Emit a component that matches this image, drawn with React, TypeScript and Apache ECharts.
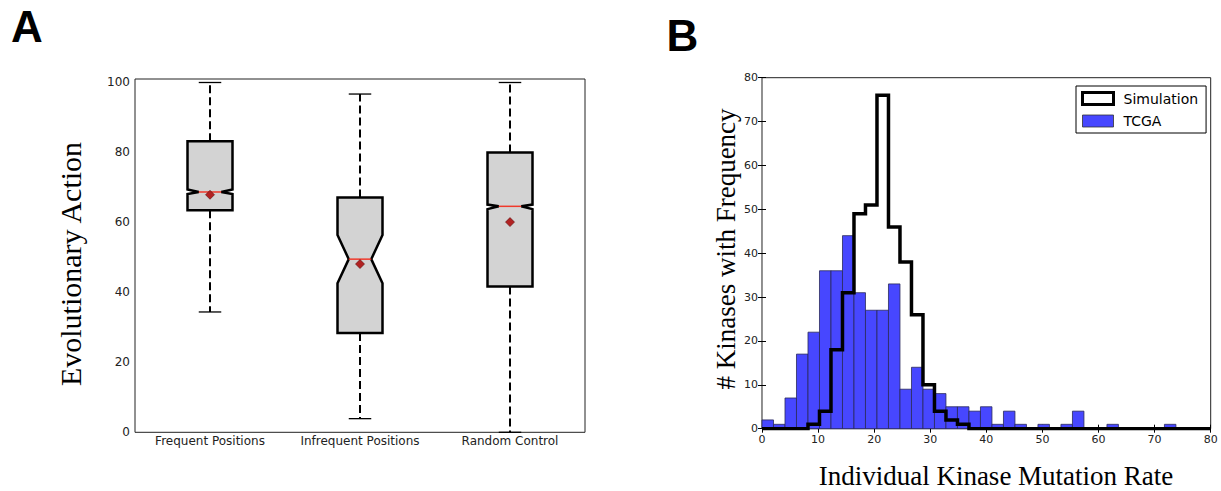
import React, { useEffect, useRef } from "react";
import * as echarts from "echarts";

// ---------- Panel A: notched box plot ----------
const BOX_CATEGORIES = ["Frequent Positions", "Infrequent Positions", "Random Control"];
const WHISKER_LOW = [34.4, 3.9, 0];
const Q1 = [63.5, 28.4, 41.7];
const NOTCH_LOW = [68.1, 42.6, 63.8];
const MEDIAN = [68.7, 49.5, 64.6];
const NOTCH_HIGH = [69.4, 56.4, 65.1];
const Q3 = [83.2, 67.1, 80.0];
const WHISKER_HIGH = [100, 96.7, 100];
const MEAN = [67.9, 48.1, 60.1];

// ---------- Panel B: histograms ----------
const BIN_WIDTH = 2.05;
const TCGA_COUNTS = [2, 1, 7, 17, 22, 36, 36, 44, 31, 27, 27, 33, 9, 14, 9, 8, 5, 5, 4, 5, 1, 4, 1, 0, 1, 0, 1, 4, 0, 0, 1, 0, 0, 0, 0, 1];
const SIM_COUNTS = [0, 0, 0, 0, 1, 4, 18, 31, 49, 51, 76, 46, 38, 26, 10, 4, 2, 1];
const B_X_MAX = 80;
const B_Y_MAX = 80;

const TICK_FONT = "DejaVu Sans";
const SERIF = "Liberation Serif";

export default function App() {
  const ref = useRef<HTMLDivElement>(null);

  useEffect(() => {
    if (!ref.current) return;
    const chart = echarts.init(ref.current, undefined, { renderer: "svg" });

    const boxData = BOX_CATEGORIES.map((_, i) => [
      i, WHISKER_LOW[i], Q1[i], NOTCH_LOW[i], MEDIAN[i], NOTCH_HIGH[i], Q3[i], WHISKER_HIGH[i], MEAN[i],
    ]);

    const tcgaData = TCGA_COUNTS.map((c, i) => [i * BIN_WIDTH, (i + 1) * BIN_WIDTH, c]);

    const simPts: number[][] = [[0, 0]];
    SIM_COUNTS.forEach((c, i) => {
      simPts.push([i * BIN_WIDTH, c]);
      simPts.push([(i + 1) * BIN_WIDTH, c]);
    });
    simPts.push([SIM_COUNTS.length * BIN_WIDTH, 0]);
    simPts.push([B_X_MAX, 0]);

    const tickStyle = { inside: true, length: 4, lineStyle: { color: "#000", width: 1 } };

    const option: any = {
      animation: false,
      backgroundColor: "#fff",
      grid: [
        { left: 135, right: 636, top: 79, bottom: 58.7, show: true, borderColor: "#222", borderWidth: 1, backgroundColor: "transparent" },
        { left: 762, right: 10.3, top: 77.7, bottom: 62.3, show: true, borderColor: "#222", borderWidth: 1, backgroundColor: "transparent" },
      ],
      legend: {
        orient: "vertical",
        left: 1076,
        top: 86,
        padding: [5, 8, 5, 5],
        itemGap: 8,
        itemWidth: 31,
        itemHeight: 12,
        borderColor: "#000",
        borderWidth: 1,
        backgroundColor: "#fff",
        textStyle: { fontFamily: TICK_FONT, fontSize: 14, color: "#000", padding: [0, 0, 0, 5] },
        selectedMode: false,
        data: [
          { name: "Simulation", icon: "rect", itemStyle: { color: "#fff", borderColor: "#000", borderWidth: 3 } },
          { name: "TCGA", icon: "rect", itemStyle: { color: "#4747ff", borderColor: "#333", borderWidth: 0.8 } },
        ],
      },
      xAxis: [
        {
          gridIndex: 0, type: "category", data: BOX_CATEGORIES, position: "bottom",
          axisLine: { show: false },
          axisTick: { ...tickStyle, alignWithLabel: true },
          axisLabel: { interval: 0, fontFamily: TICK_FONT, fontSize: 12, color: "#222", margin: 3 },
          splitLine: { show: false },
        },
        {
          gridIndex: 0, type: "category", data: BOX_CATEGORIES, position: "top",
          axisLine: { show: false },
          axisTick: { ...tickStyle, alignWithLabel: true, interval: 0 },
          axisLabel: { show: false },
          splitLine: { show: false },
        },
        {
          gridIndex: 1, type: "value", min: 0, max: B_X_MAX, interval: 10, position: "bottom",
          axisLine: { show: false },
          axisTick: tickStyle,
          axisLabel: { fontFamily: TICK_FONT, fontSize: 11, color: "#222", margin: 5 },
          splitLine: { show: false },
        },
        {
          gridIndex: 1, type: "value", min: 0, max: B_X_MAX, interval: 10, position: "top",
          axisLine: { show: false },
          axisTick: tickStyle,
          axisLabel: { show: false },
          splitLine: { show: false },
        },
      ],
      yAxis: [
        {
          gridIndex: 0, type: "value", min: 0, max: 101, interval: 20, position: "left",
          axisLine: { show: false },
          axisTick: tickStyle,
          axisLabel: { fontFamily: TICK_FONT, fontSize: 12, color: "#222", margin: 5, showMaxLabel: false,
            formatter: (v: number) => (v % 20 === 0 ? String(v) : "") },
          splitLine: { show: false },
        },
        {
          gridIndex: 0, type: "value", min: 0, max: 101, interval: 20, position: "right",
          axisLine: { show: false },
          axisTick: tickStyle,
          axisLabel: { show: false },
          splitLine: { show: false },
        },
        {
          gridIndex: 1, type: "value", min: 0, max: B_Y_MAX, interval: 10, position: "left",
          axisLine: { show: false },
          axisTick: tickStyle,
          axisLabel: { fontFamily: TICK_FONT, fontSize: 11, color: "#222", margin: 4 },
          splitLine: { show: false },
        },
        {
          gridIndex: 1, type: "value", min: 0, max: B_Y_MAX, interval: 10, position: "right",
          axisLine: { show: false },
          axisTick: tickStyle,
          axisLabel: { show: false },
          splitLine: { show: false },
        },
      ],
      series: [
        {
          type: "custom",
          name: "box",
          xAxisIndex: 0,
          yAxisIndex: 0,
          clip: false,
          encode: { x: 0, y: [1, 2, 3, 4, 5, 6, 7, 8] },
          data: boxData,
          renderItem: (params: any, api: any) => {
            const i = api.value(0);
            const cx = api.coord([i, 0])[0];
            const band = api.size([1, 0])[0];
            const hw = (band * 0.3) / 2;
            const nw = hw / 2;
            const capW = hw * 0.5;
            const y = (v: number) => api.coord([i, v])[1];
            const wl = y(api.value(1));
            const q1 = y(api.value(2));
            const nl = y(api.value(3));
            const md = y(api.value(4));
            const nh = y(api.value(5));
            const q3 = y(api.value(6));
            const wh = y(api.value(7));
            const mn = y(api.value(8));
            const L = cx - hw;
            const R = cx + hw;
            const dash = { stroke: "#000", lineWidth: 2, lineDash: [8, 4], fill: "none" };
            const cap = { stroke: "#000", lineWidth: 1.3, fill: "none" };
            const d = 4.5;
            return {
              type: "group",
              children: [
                { type: "line", shape: { x1: cx, y1: q3, x2: cx, y2: wh }, style: dash },
                { type: "line", shape: { x1: cx, y1: q1, x2: cx, y2: wl }, style: dash },
                { type: "line", shape: { x1: cx - capW, y1: wh, x2: cx + capW, y2: wh }, style: cap },
                { type: "line", shape: { x1: cx - capW, y1: wl, x2: cx + capW, y2: wl }, style: cap },
                {
                  type: "polygon",
                  shape: {
                    points: [
                      [L, q1], [L, nl], [cx - nw, md], [L, nh], [L, q3],
                      [R, q3], [R, nh], [cx + nw, md], [R, nl], [R, q1],
                    ],
                  },
                  style: { fill: "#d3d3d3", stroke: "#000", lineWidth: 2.5, lineJoin: "miter" },
                },
                { type: "line", shape: { x1: cx - nw, y1: md, x2: cx + nw, y2: md }, style: { stroke: "#f0392b", lineWidth: 1.5 } },
                {
                  type: "polygon",
                  shape: { points: [[cx, mn - d], [cx + d, mn], [cx, mn + d], [cx - d, mn]] },
                  style: { fill: "#b22222", stroke: "#5a0a0a", lineWidth: 0.6 },
                },
              ],
            };
          },
        },
        {
          type: "custom",
          name: "TCGA",
          xAxisIndex: 2,
          yAxisIndex: 2,
          encode: { x: [0, 1], y: 2 },
          itemStyle: { color: "#4747ff" },
          data: tcgaData,
          renderItem: (params: any, api: any) => {
            const h = api.value(2);
            if (!h) return null;
            const p0 = api.coord([api.value(0), h]);
            const p1 = api.coord([api.value(1), 0]);
            return {
              type: "rect",
              shape: { x: p0[0], y: p0[1], width: p1[0] - p0[0], height: p1[1] - p0[1] },
              style: { fill: "#4747ff", stroke: "#2a2a5a", lineWidth: 0.8 },
            };
          },
        },
        {
          type: "line",
          name: "Simulation",
          xAxisIndex: 2,
          yAxisIndex: 2,
          data: simPts,
          showSymbol: false,
          symbol: "none",
          clip: true,
          z: 5,
          itemStyle: { color: "#000" },
          lineStyle: { color: "#000", width: 3.5, join: "miter", cap: "butt" },
        },
      ],
      graphic: [
        { type: "text", x: 27, y: 26, style: { text: "A", fontFamily: "Liberation Sans", fontWeight: "bold", fontSize: 44, fill: "#000", align: "center", verticalAlign: "middle" } },
        { type: "text", x: 682.5, y: 35, style: { text: "B", fontFamily: "Liberation Sans", fontWeight: "bold", fontSize: 44, fill: "#000", align: "center", verticalAlign: "middle" } },
        { type: "text", x: 70, y: 264, rotation: Math.PI / 2, style: { text: "Evolutionary Action", fontFamily: SERIF, fontSize: 30, fill: "#000", align: "center", verticalAlign: "middle" } },
        { type: "text", x: 726, y: 249, rotation: Math.PI / 2, style: { text: "# Kinases with Frequency", fontFamily: SERIF, fontSize: 27, fill: "#000", align: "center", verticalAlign: "middle" } },
        { type: "text", x: 996, y: 476, style: { text: "Individual Kinase Mutation Rate", fontFamily: SERIF, fontSize: 27, fill: "#000", align: "center", verticalAlign: "middle" } },
      ],
    };

    chart.setOption(option);
    return () => chart.dispose();
  }, []);

  return <div ref={ref} style={{ position: "fixed", left: 0, top: 0, width: 1221, height: 491, background: "#fff" }} />;
}
